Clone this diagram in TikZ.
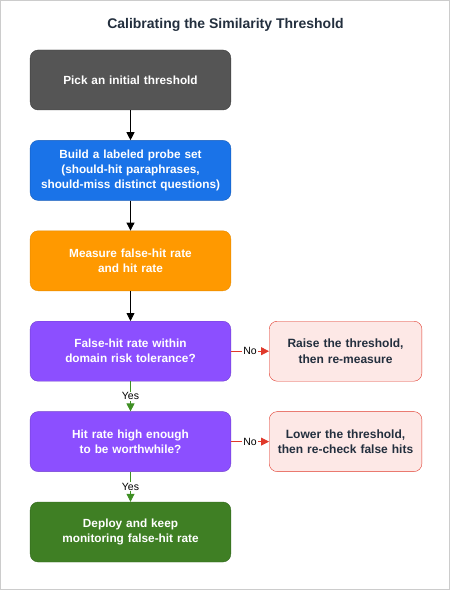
\documentclass[tikz,border=0pt]{standalone}
\usepackage{fontspec}
\setmainfont{Liberation Sans}
\usetikzlibrary{positioning,arrows.meta}

\definecolor{titlecol}{HTML}{232F3E}
\definecolor{startcol}{HTML}{555555}
\definecolor{probecol}{HTML}{1A73E8}
\definecolor{measurecol}{HTML}{FF9900}
\definecolor{askcol}{HTML}{8C4FFF}
\definecolor{deploycol}{HTML}{3F7F24}
\definecolor{fixfill}{HTML}{FDE8E6}
\definecolor{fixdraw}{HTML}{E0392B}
\definecolor{yescol}{HTML}{3F8F24}

\begin{document}
\begin{tikzpicture}
    [x=1pt,y=1pt,
     stage/.style={rectangle,rounded corners=8pt,minimum width=200pt,minimum height=60pt,
       text width=194pt,align=center,font=\fontsize{11.8}{15}\selectfont\bfseries,
       text=white,node distance=30pt},
     fix/.style={stage,minimum width=150pt,text width=146pt,fill=fixfill,draw=fixdraw,
       text=titlecol,font=\fontsize{12}{15.5}\selectfont\bfseries},
     flow/.style={-{Triangle[length=8pt,width=8pt]},thick},
     lbl/.style={fill=white,inner sep=1pt,font=\fontsize{10.5}{12}\selectfont}]
    \useasboundingbox (0,0) rectangle (451,-591);
    \draw[black!20] (0.5,-0.5) rectangle (449.5,-589.5);

    \node (title) at (225.5,-25) {\fontsize{14}{16}\selectfont\bfseries\color{titlecol}Calibrating the Similarity Threshold};

    \node[stage,fill=startcol,draw=startcol!70!black] (pick) at (130.5,-80) {Pick an initial threshold};
    \node[stage,fill=probecol,draw=probecol!80!black] (probe) [below=of pick]
      {Build a labeled probe set\\(should-hit paraphrases,\\should-miss distinct questions)};
    \node[stage,fill=measurecol,draw=measurecol!90!black] (measure) [below=of probe]
      {Measure false-hit rate\\and hit rate};
    \node[stage,fill=askcol,draw=askcol!80!black] (risk) [below=of measure]
      {False-hit rate within\\domain risk tolerance?};
    \node[stage,fill=askcol,draw=askcol!80!black] (worth) [below=of risk]
      {Hit rate high enough\\to be worthwhile?};
    \node[stage,fill=deploycol,draw=deploycol!80!black] (deploy) [below=of worth]
      {Deploy and keep\\monitoring false-hit rate};

    \node[fix] (raise) [right=38pt of risk] {Raise the threshold,\\then re-measure};
    \node[fix] (lower) [right=38pt of worth] {Lower the threshold,\\then re-check false hits};

    \draw[flow] (pick) -- (probe);
    \draw[flow] (probe) -- (measure);
    \draw[flow] (measure) -- (risk);
    \draw[flow,yescol] (risk) -- node[lbl,text=black] {Yes} (worth);
    \draw[flow,yescol] (worth) -- node[lbl,text=black] {Yes} (deploy);
    \draw[flow,fixdraw] (risk) -- node[lbl,text=black] {No} (raise);
    \draw[flow,fixdraw] (worth) -- node[lbl,text=black] {No} (lower);
\end{tikzpicture}
\end{document}
